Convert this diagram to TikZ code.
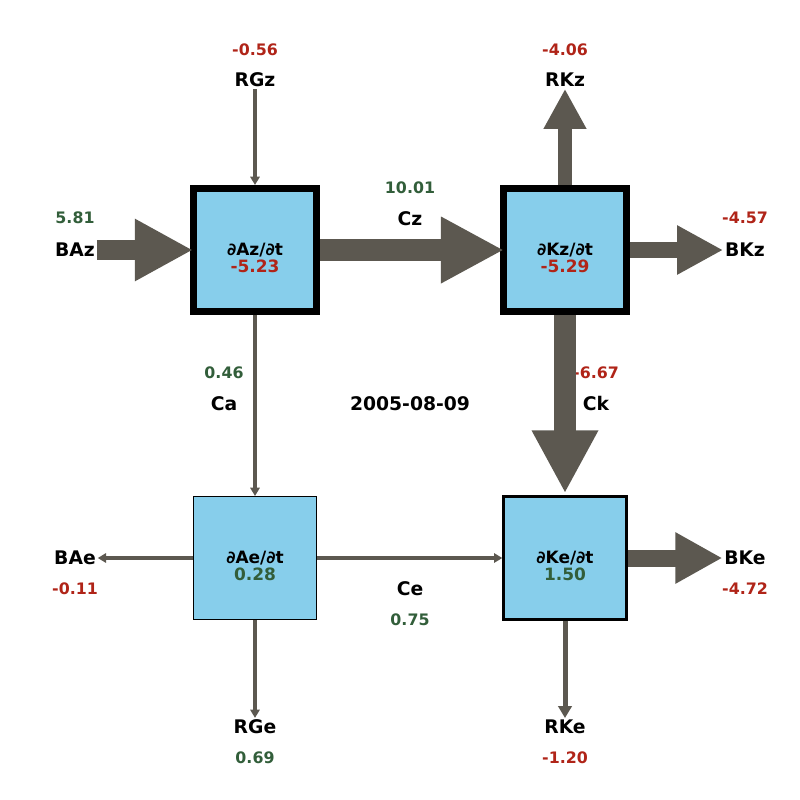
\documentclass[tikz,border=0pt]{standalone}
\usepackage{fontspec}
\setmainfont{DejaVu Sans}
\usetikzlibrary{arrows.meta,positioning,calc}

\definecolor{flowgray}{HTML}{5C5850}
\definecolor{valred}{HTML}{B02418}
\definecolor{valgreen}{HTML}{325E3A}
\definecolor{boxblue}{HTML}{87CEEB}

\tikzset{
  pool/.style={draw,fill=boxblue,minimum size=3.69cm,inner sep=0pt},
  thickpool/.style={pool,line width=0.21cm},
  poolname/.style={font=\fontsize{14.5pt}{15pt}\selectfont\bfseries,align=center,inner sep=0pt},
  term/.style={font=\fontsize{16pt}{18pt}\selectfont\bfseries,inner sep=1.5pt},
  red val/.style={font=\fontsize{13.5pt}{15pt}\selectfont\bfseries,text=valred},
  green val/.style={font=\fontsize{13.5pt}{15pt}\selectfont\bfseries,text=valgreen},
  thinflow/.style={draw=flowgray,line width=0.1cm,-{Triangle[width=0.28cm,length=0.25cm]}},
  fatflow/.style args={#1/#2/#3}{draw=flowgray,line width=#1,-{Triangle[width=#2,length=#3]}}
}

\begin{document}
\begin{tikzpicture}[x=0.03cm,y=-0.03cm]
  \fill[white] (0,0) rectangle (800,800);

  % pools
  \node[thickpool] (Az) at (255,250) {};
  \node[thickpool] (Kz) at (565,250) {};
  \node[pool,line width=0.03cm] (Ae) at (255,558) {};
  \node[pool,line width=0.07cm] (Ke) at (565,558) {};
  \node[poolname] at ($(Az)+(0,8)$) {∂Az/∂t\\[-1pt]\textcolor{valred}{-5.23}};
  \node[poolname] at ($(Kz)+(0,8)$) {∂Kz/∂t\\[-1pt]\textcolor{valred}{-5.29}};
  \node[poolname] at ($(Ae)+(0,8)$) {∂Ae/∂t\\[-1pt]\textcolor{valgreen}{0.28}};
  \node[poolname] at ($(Ke)+(0,8)$) {∂Ke/∂t\\[-1pt]\textcolor{valgreen}{1.50}};

  % boundary terms
  \node[term] (RGz) at (255,80) {RGz};
  \node[red val] at (255,50) {-0.56};
  \node[term] (RKz) at (565,80) {RKz};
  \node[red val] at (565,50) {-4.06};
  \node[term] (BAz) at (75,250) {BAz};
  \node[green val] at (75,218) {5.81};
  \node[term] (BKz) at (745,250) {BKz};
  \node[red val] at (745,218) {-4.57};
  \node[term] (BAe) at (75,558) {BAe};
  \node[red val] at (75,589) {-0.11};
  \node[term] (BKe) at (745,558) {BKe};
  \node[red val] at (745,589) {-4.72};
  \node[term] (RGe) at (255,727) {RGe};
  \node[green val] at (255,758) {0.69};
  \node[term] (RKe) at (565,727) {RKe};
  \node[red val] at (565,758) {-1.20};

  % conversions
  \node[term] (Cz) at (410,219) {Cz};
  \node[green val] at (410,188) {10.01};
  \node[term] (Ca) at (224,404) {Ca};
  \node[green val] at (224,373) {0.46};
  \node[term] (Ck) at (596,404) {Ck};
  \node[red val] at (596,373) {-6.67};
  \node[term] (Ce) at (410,589) {Ce};
  \node[green val] at (410,620) {0.75};
  \node[term] (date) at (410,404) {2005-08-09};

  % flows
  \draw[thinflow] (RGz.south) -- (Az.north);
  \draw[thinflow] (Az.south) -- (Ae.north);
  \draw[thinflow] (Ae.east) -- (Ke.west);
  \draw[thinflow] (Ae.west) -- (BAe.east);
  \draw[thinflow] (Ae.south) -- (RGe.north);
  \draw[fatflow={0.15cm/0.4cm/0.36cm}] (Ke.south) -- (RKe.north);
  \draw[fatflow={0.6cm/1.74cm/1.74cm}] (BAz.east) -- ([xshift=0.09cm]Az.west);
  \draw[fatflow={0.66cm/1.86cm/1.89cm}] (Az.east) -- ([xshift=0.12cm]Kz.west);
  \draw[fatflow={0.42cm/1.2cm/1.2cm}] (Kz.north) -- (RKz.south);
  \draw[fatflow={0.48cm/1.38cm/1.38cm}] (Kz.east) -- (BKz.west);
  \draw[fatflow={0.66cm/1.86cm/1.89cm}] (Kz.south) -- ([yshift=0.06cm]Ke.north);
  \draw[fatflow={0.51cm/1.44cm/1.41cm}] (Ke.east) -- (BKe.west);
\end{tikzpicture}
\end{document}
